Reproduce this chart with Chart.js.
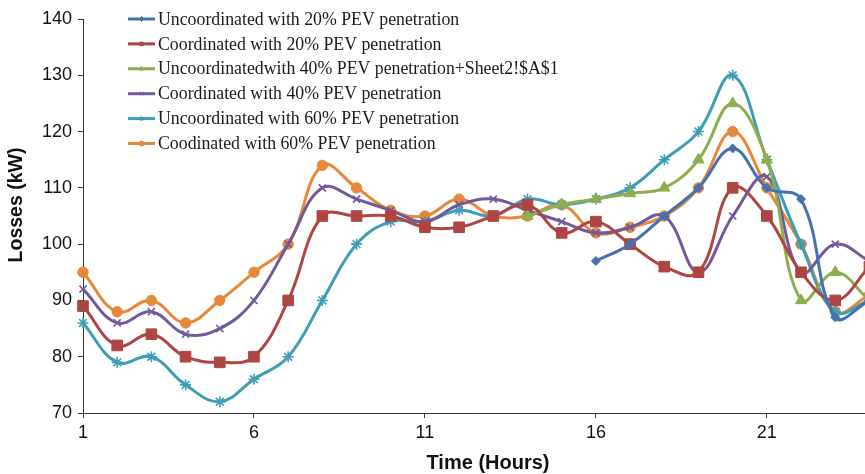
<!DOCTYPE html>
<html>
<head>
<meta charset="utf-8">
<script src="https://cdn.jsdelivr.net/npm/chart.js@4.4.1/dist/chart.umd.min.js"></script>
<style>
  html, body { margin: 0; padding: 0; background: #fff; overflow: hidden; }
  #wrap { width: 865px; height: 474px; }
</style>
</head>
<body>
<div id="wrap"><canvas id="c" width="865" height="474"></canvas></div>
<script>
// ---- data ----
const hours = [1, 2, 3, 4, 5, 6, 7, 8, 9, 10, 11, 12, 13, 14, 15, 16, 17, 18, 19, 20, 21, 22, 23, 24];
const xTickLabels = [1, 6, 11, 16, 21];
const yTickLabels = [70, 80, 90, 100, 110, 120, 130, 140];

const seriesNames = [
  'Uncoordinated with 20% PEV penetration',
  'Coordinated with 20% PEV penetration',
  'Uncoordinatedwith 40% PEV penetration+Sheet2!$A$1',
  'Coordinated with 40% PEV penetration',
  'Uncoordinated with 60% PEV penetration',
  'Coodinated with 60% PEV penetration'
];
const uncoord20 = [null, null, null, null, null, null, null, null, null, null, null, null, null, null, null, 97, 100, 105, 110, 117, 110, 108, 87, 90];
const coord20   = [89, 82, 84, 80, 79, 80, 90, 105, 105, 105, 103, 103, 105, 107, 102, 104, 100, 96, 95, 110, 105, 95, 90, 96];
const uncoord40 = [null, null, null, null, null, null, null, null, null, null, null, null, null, 105, 107, 108, 109, 110, 115, 125, 115, 90, 95, 90];
const coord40   = [92, 86, 88, 84, 85, 90, 100, 110, 108, 106, 104, 107, 108, 106, 104, 102, 103, 105, 95, 105, 112, 95, 100, 97];
const uncoord60 = [86, 79, 80, 75, 72, 76, 80, 90, 100, 104, 104, 106, 105, 108, 107, 108, 110, 115, 120, 130, 115, 100, 88, 90];
const coord60   = [95, 88, 90, 86, 90, 95, 100, 114, 110, 106, 105, 108, 105, 105, 107, 102, 103, 105, 110, 120, 110, 100, 88, 91];

const xTitle = 'Time (Hours)';
const yTitle = 'Losses (kW)';

// ---- styles ----
const colors = ['#4472B0', '#AE4542', '#8DAE4F', '#71599A', '#3E9DB7', '#E6873A'];
const styles = ['rectRot', 'rect', 'triangle', 'crossRot', 'star', 'circle'];
const radii  = [4.5, 7.5, 6.5, 5, 5.5, 5.2];
const allSeries = [uncoord20, coord20, uncoord40, coord40, uncoord60, coord60];

const datasets = allSeries.map((vals, k) => ({
  label: seriesNames[k],
  data: hours.map((h, i) => ({ x: h, y: vals[i] })),
  borderColor: colors[k],
  backgroundColor: colors[k],
  pointBackgroundColor: colors[k],
  pointBorderColor: colors[k],
  pointStyle: styles[k],
  pointRadius: radii[k],
  pointBorderWidth: (styles[k] === 'crossRot' || styles[k] === 'star') ? 1.6 : 1,
  borderWidth: 3,
  tension: 0.4,
  fill: false,
  clip: { left: 10, top: 10, right: 10, bottom: 10 }
}));

const overlay = {
  id: 'overlay',
  afterDraw(chart) {
    const ctx = chart.ctx;
    ctx.save();
    // legend
    const rowY0 = 19, rowStep = 24.9;
    chart.data.datasets.forEach((ds, k) => {
      const y = rowY0 + k * rowStep;
      ctx.strokeStyle = ds.borderColor;
      ctx.lineWidth = 3;
      ctx.beginPath();
      ctx.moveTo(128, y);
      ctx.lineTo(155, y);
      ctx.stroke();
      ctx.fillStyle = ds.borderColor;
      ctx.lineWidth = 1;
      Chart.helpers.drawPoint(ctx, { pointStyle: ds.pointStyle, radius: 2.5, borderWidth: 1, rotation: 0 }, 141.5, y);
      ctx.fillStyle = '#1a1a1a';
      ctx.font = '17.8px "Liberation Serif", "Times New Roman", serif';
      ctx.textAlign = 'left';
      ctx.textBaseline = 'middle';
      ctx.fillText(ds.label, 158, y + 1);
    });
    // axis titles
    ctx.fillStyle = '#111';
    ctx.font = 'bold 20px "Liberation Sans", Arial, sans-serif';
    ctx.textAlign = 'center';
    ctx.textBaseline = 'middle';
    ctx.fillText(xTitle, 488, 463);
    ctx.translate(16.5, 205);
    ctx.rotate(-Math.PI / 2);
    ctx.font = 'bold 19.5px "Liberation Sans", Arial, sans-serif';
    ctx.fillText(yTitle, 0, 0);
    ctx.restore();
  }
};

new Chart(document.getElementById('c'), {
  type: 'line',
  data: { datasets },
  options: {
    responsive: false,
    animation: false,
    layout: { autoPadding: false, padding: { top: 19, right: 0, left: 0, bottom: 0 } },
    plugins: { legend: { display: false }, tooltip: { enabled: false } },
    scales: {
      x: {
        type: 'linear',
        min: 1,
        max: 23.87,
        afterFit(s) { s.height = 61; },
        afterBuildTicks(s) { s.ticks = xTickLabels.map(v => ({ value: v })); },
        grid: { drawOnChartArea: false, drawTicks: true, tickLength: 5, color: '#333' },
        border: { display: true, color: '#333', width: 1 },
        ticks: {
          color: '#111',
          padding: 4,
          maxRotation: 0,
          autoSkip: false,
          font: { family: '"Liberation Sans", Arial, sans-serif', size: 18 }
        }
      },
      y: {
        min: 70,
        max: 140,
        afterFit(s) { s.width = 83; },
        afterBuildTicks(s) { s.ticks = yTickLabels.map(v => ({ value: v })); },
        grid: { drawOnChartArea: false, drawTicks: true, tickLength: 5, color: '#333' },
        border: { display: true, color: '#333', width: 1 },
        ticks: {
          color: '#111',
          padding: 6,
          font: { family: '"Liberation Sans", Arial, sans-serif', size: 18 }
        }
      }
    }
  },
  plugins: [overlay]
});
</script>
</body>
</html>
